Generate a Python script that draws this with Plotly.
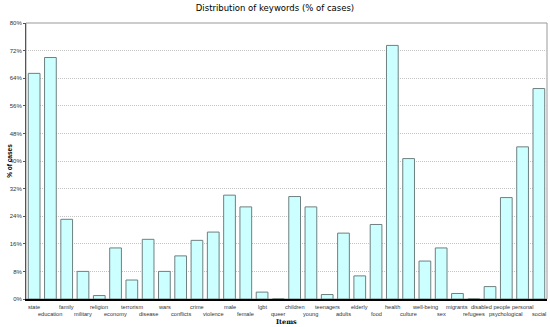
import plotly.graph_objects as go

categories = ["state", "education", "family", "military", "religion", "economy", "terrorism",
              "disease", "wars", "conflicts", "crime", "violence", "male", "female", "lgbt",
              "queer", "children", "young", "teenagers", "adults", "elderly", "food", "health",
              "culture", "well-being", "sex", "migrants", "refugees", "disabled people",
              "psychological", "personal", "social"]
values = [65.4, 70.0, 23.1, 8.0, 1.0, 14.8, 5.5, 17.3, 8.0, 12.5, 17.0, 19.4, 30.1, 26.7, 2.0,
          0.0, 29.7, 26.7, 1.3, 19.1, 6.7, 21.6, 73.5, 40.7, 11.0, 14.8, 1.6, 0.0, 3.6,
          29.4, 44.1, 61.0]
y_ticks = [0, 8, 16, 24, 32, 40, 48, 56, 64, 72, 80]
y_ticklabels = [f"{v}%" for v in y_ticks]

font_family = "Liberation Sans"

fig = go.Figure()
fig.add_trace(go.Bar(
    x=categories, y=values,
    marker=dict(color="#ccffff", line=dict(color="#6e8080", width=1)),
    width=0.72,
))

annotations = []
for i, c in enumerate(categories):
    annotations.append(dict(
        x=c, xref="x", y=-0.012 if i % 2 == 0 else -0.037, yref="paper",
        text=c, showarrow=False, xanchor="center", yanchor="top",
        font=dict(family=font_family, size=5.6, color="#333"),
    ))
annotations.append(dict(x=0.5, xref="paper", y=-0.063, yref="paper", text="<b>Items</b>",
                        showarrow=False, xanchor="center", yanchor="top",
                        font=dict(family="DejaVu Serif", size=6.5, color="#000")))
annotations.append(dict(x=-0.033, xref="paper", y=0.5, yref="paper", text="<b>% of cases</b>",
                        showarrow=False, xanchor="center", yanchor="middle", textangle=-90,
                        font=dict(family=font_family, size=6.5, color="#000")))

fig.update_layout(
    width=550, height=327,
    margin=dict(l=26, r=3, t=23, b=28, autoexpand=False),
    paper_bgcolor="white", plot_bgcolor="white",
    showlegend=False,
    title=dict(text="Distribution of keywords (% of cases)", x=0.5, xanchor="center",
               y=0.975, yanchor="middle", font=dict(family="DejaVu Sans", size=8.5, color="#000")),
    font=dict(family=font_family, size=6, color="#333"),
    annotations=annotations,
)
fig.update_xaxes(
    showticklabels=False, automargin=False,
    showline=True, linecolor="#000", linewidth=1.5, mirror=False,
    showgrid=False, ticks="", range=[-0.5, len(categories) - 0.5],
)
fig.update_yaxes(
    range=[0, 80], tickmode="array", tickvals=y_ticks, ticktext=y_ticklabels,
    tickfont=dict(family=font_family, size=6, color="#333"), automargin=False,
    showgrid=True, gridcolor="#c4c4c4", griddash="1px,1px", gridwidth=1,
    showline=True, linecolor="#555", linewidth=1, ticks="outside", ticklen=2, tickcolor="#555",
    zeroline=False,
)
fig.add_shape(type="rect", xref="paper", yref="paper", x0=0, y0=0, x1=1, y1=1,
              line=dict(color="#999999", width=1), layer="below")

fig.write_html("out.html", config={"displayModeBar": False},
               post_script="document.body.style.margin='0';document.body.style.overflow='hidden';")
